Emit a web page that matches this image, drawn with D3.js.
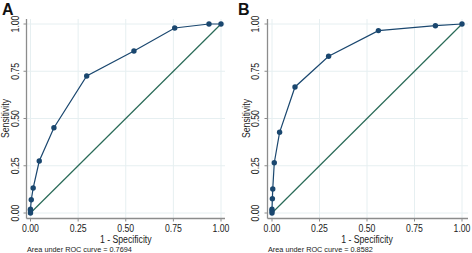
<!DOCTYPE html>
<html><head><meta charset="utf-8">
<script src="https://cdn.jsdelivr.net/npm/d3@7"></script>
<style>body{margin:0;background:#fff}svg{display:block}text{font-family:"Liberation Sans",Arial,sans-serif}</style>
</head><body>
<svg id="c" width="472" height="253"></svg>
<script>
const ticks = [0, 0.25, 0.5, 0.75, 1];
const tickLabels = ["0.00", "0.25", "0.50", "0.75", "1.00"];
const panelLabels = ["A", "B"];
const aucTexts = ["Area under ROC curve = 0.7694", "Area under ROC curve = 0.8582"];
const fprA = [0, 0, 0, 0.004, 0.014, 0.046, 0.123, 0.295, 0.543, 0.757, 0.937, 1];
const tprA = [0, 0.013, 0.02, 0.07, 0.132, 0.275, 0.451, 0.725, 0.857, 0.979, 1, 1];
const fprB = [0, 0, 0, 0.002, 0.004, 0.012, 0.04, 0.121, 0.298, 0.56, 0.86, 1];
const tprB = [0, 0.01, 0.02, 0.076, 0.127, 0.266, 0.427, 0.667, 0.829, 0.965, 0.991, 1];
const diag = [0, 1];

const svg = d3.select("#c");
const panels = [
  {fpr: fprA, tpr: tprA, x0: 30.5, x1: 221, axisX: 26.5, axisEnd: 225, lbl: 2, ytl: 18.5, ylab: 9, auc: 27},
  {fpr: fprB, tpr: tprB, x0: 272, x1: 462, axisX: 267.5, axisEnd: 468, lbl: 238, ytl: 259, ylab: 249.5, auc: 268}
];
const yTop = 24, yBot = 213, axisY = 218.5, axisTop = 19;
const navy = "#1a476f", green = "#2a6b58", grid = "#e6eff1", axisCol = "#8c8c8c";
const sx = 0.87;

panels.forEach((p, i) => {
  const x = d3.scaleLinear().domain([0, 1]).range([p.x0, p.x1]);
  const y = d3.scaleLinear().domain([0, 1]).range([yBot, yTop]);
  const g = svg.append("g");
  // grid
  g.selectAll(".gx").data(ticks).join("line")
    .attr("x1", d => x(d)).attr("x2", d => x(d)).attr("y1", axisTop).attr("y2", axisY)
    .attr("stroke", grid).attr("stroke-width", 1);
  g.selectAll(".gy").data(ticks).join("line")
    .attr("x1", p.axisX).attr("x2", p.axisEnd).attr("y1", d => y(d)).attr("y2", d => y(d))
    .attr("stroke", grid).attr("stroke-width", 1);
  // axes
  g.append("line").attr("x1", p.axisX).attr("x2", p.axisX).attr("y1", axisTop).attr("y2", axisY)
    .attr("stroke", axisCol).attr("stroke-width", 1.3);
  g.append("line").attr("x1", p.axisX).attr("x2", p.axisEnd).attr("y1", axisY).attr("y2", axisY)
    .attr("stroke", axisCol).attr("stroke-width", 1.3);
  g.selectAll(".ty").data(ticks).join("line")
    .attr("x1", p.axisX - 3).attr("x2", p.axisX).attr("y1", d => y(d)).attr("y2", d => y(d))
    .attr("stroke", axisCol);
  g.selectAll(".tx").data(ticks).join("line")
    .attr("x1", d => x(d)).attr("x2", d => x(d)).attr("y1", axisY).attr("y2", axisY + 3)
    .attr("stroke", axisCol);
  // tick labels
  g.selectAll(".lx").data(ticks).join("text")
    .attr("transform", d => `translate(${x(d)},231.5) scale(${sx},1)`).attr("text-anchor", "middle")
    .attr("font-size", 10).attr("fill", "#222").text((d, k) => tickLabels[k]);
  g.selectAll(".ly").data(ticks).join("text")
    .attr("transform", d => `translate(${p.ytl},${y(d)}) rotate(-90) scale(${sx},1)`)
    .attr("text-anchor", "middle").attr("font-size", 10).attr("fill", "#222")
    .text((d, k) => tickLabels[k]);
  // axis titles
  g.append("text").attr("transform", `translate(${(p.x0 + p.x1) / 2},242.5) scale(${sx},1)`)
    .attr("text-anchor", "middle")
    .attr("font-size", 10).attr("fill", "#222").text("1 - Specificity");
  g.append("text").attr("transform", `translate(${p.ylab},${(yTop + yBot) / 2}) rotate(-90) scale(${sx},1)`)
    .attr("text-anchor", "middle").attr("font-size", 10).attr("fill", "#222").text("Sensitivity");
  g.append("text").attr("x", p.auc).attr("y", 251.5).attr("font-size", 7.3).attr("fill", "#222")
    .text(aucTexts[i]);
  g.append("text").attr("x", p.lbl).attr("y", 15).attr("font-size", 16).attr("font-weight", "bold")
    .attr("fill", "#111").text(panelLabels[i]);
  // diagonal
  g.append("path").datum(diag)
    .attr("d", d3.line().x(d => x(d)).y(d => y(d)))
    .attr("fill", "none").attr("stroke", green).attr("stroke-width", 1.2);
  // curve
  const pts = p.fpr.map((f, k) => [f, p.tpr[k]]);
  g.append("path").datum(pts)
    .attr("d", d3.line().x(d => x(d[0])).y(d => y(d[1])))
    .attr("fill", "none").attr("stroke", navy).attr("stroke-width", 1.2);
  g.selectAll(".pt").data(pts).join("circle")
    .attr("cx", d => x(d[0])).attr("cy", d => y(d[1])).attr("r", 2.7).attr("fill", navy);
});
</script>
</body></html>
